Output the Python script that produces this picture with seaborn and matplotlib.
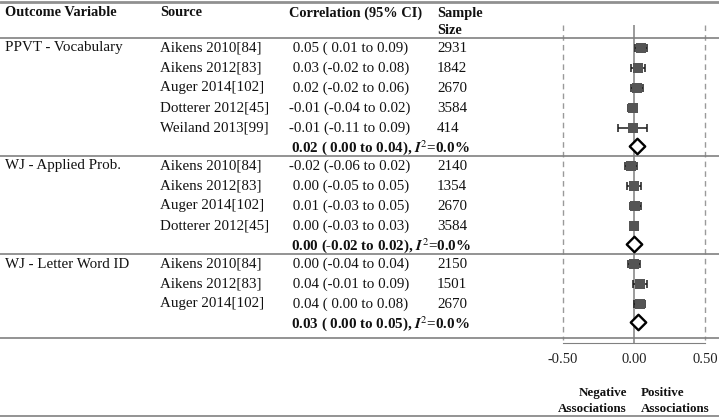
import numpy as np
import pandas as pd
import matplotlib.pyplot as plt
import matplotlib.transforms as mtransforms
import seaborn as sns

sns.set_style('white')
plt.rcParams['font.family'] = ['Liberation Serif', 'DejaVu Serif']
plt.rcParams['mathtext.fontset'] = 'stix'

# data
outcomes = ['PPVT - Vocabulary', 'WJ - Applied Prob.', 'WJ - Letter Word ID']
sources = [
    ['Aikens 2010[84]', 'Aikens 2012[83]', 'Auger 2014[102]', 'Dotterer 2012[45]', 'Weiland 2013[99]'],
    ['Aikens 2010[84]', 'Aikens 2012[83]', 'Auger 2014[102]', 'Dotterer 2012[45]'],
    ['Aikens 2010[84]', 'Aikens 2012[83]', 'Auger 2014[102]'],
]
corr = [[0.05, 0.03, 0.02, -0.01, -0.01], [-0.02, 0.00, 0.01, 0.00], [0.00, 0.04, 0.04]]
ci_low = [[0.01, -0.02, -0.02, -0.04, -0.11], [-0.06, -0.05, -0.03, -0.03], [-0.04, -0.01, 0.00]]
ci_high = [[0.09, 0.08, 0.06, 0.02, 0.09], [0.02, 0.05, 0.05, 0.03], [0.04, 0.09, 0.08]]
sample_size = [[2931, 1842, 2670, 3584, 414], [2140, 1354, 2670, 3584], [2150, 1501, 2670]]
pooled = [0.02, 0.00, 0.03]
pooled_low = [0.00, -0.02, 0.00]
pooled_high = [0.04, 0.02, 0.05]
i2 = [0.0, 0.0, 0.0]
ticks = [-0.50, 0.00, 0.50]

# build tables with a row number for each line
study_rows = []
summary_rows = []
row = 0
for g in range(len(outcomes)):
    for j in range(len(sources[g])):
        study_rows.append(dict(group=g, outcome=outcomes[g] if j == 0 else '', source=sources[g][j],
                               r=corr[g][j], lo=ci_low[g][j], hi=ci_high[g][j],
                               n=sample_size[g][j], row=row))
        row += 1
    summary_rows.append(dict(group=g, r=pooled[g], lo=pooled_low[g], hi=pooled_high[g], i2=i2[g], row=row - 0.1))
    row += 0.9
studies = pd.DataFrame(study_rows)
summary = pd.DataFrame(summary_rows)

fig = plt.figure(figsize=(7.19, 4.18), dpi=100)
ax = fig.add_axes([563 / 719, 0, 142 / 719, 1])
ax.set_xlim(-0.5, 0.5)
ax.set_ylim(18.5, -2.4)
ax.patch.set_alpha(0)

fs = 10.8
trans = mtransforms.blended_transform_factory(fig.transFigure, ax.transData)

# reference lines
ax.vlines(0, -1.15, 14.75, color='#8a8a8a', lw=1.2, zorder=1)
ax.vlines([-0.5, 0.5], -1.15, 14.6, color='#9a9a9a', lw=1, ls=(0, (4, 3)), clip_on=False, zorder=1)

# table separators
sep = [-0.5] + list(summary['row'] + 0.5)
sep[-1] = 14.5
for y in sep:
    ax.plot([0, 1], [y, y], transform=trans, color='#808080', lw=1.2, clip_on=False)
ax.plot([0, 1], [-2.325, -2.325], transform=trans, color='#909090', lw=2, clip_on=False)
ax.plot([0, 1], [18.4, 18.4], transform=trans, color='#808080', lw=1.2, clip_on=False)

# forest marks
ax.errorbar(studies['r'], studies['row'], xerr=[studies['r'] - studies['lo'], studies['hi'] - studies['r']],
            fmt='none', ecolor='#1a1a1a', elinewidth=1.1, capsize=3.2, capthick=1.1, zorder=2)
sns.scatterplot(data=studies, x='r', y='row', marker='s', s=58, color='#555555', linewidth=0,
                ax=ax, zorder=3, legend=False)
sns.scatterplot(data=summary, x='r', y='row', marker='D', s=62, color='white', edgecolor='black',
                linewidth=1.7, ax=ax, zorder=3, legend=False)

# axis
for s in ['top', 'left', 'right']:
    ax.spines[s].set_visible(False)
ax.spines['bottom'].set_position(('data', 14.75))
ax.spines['bottom'].set_color('#808080')
ax.set_xticks(ticks)
ax.set_xticklabels([f'{t:.2f}' for t in ticks], fontsize=10.5)
ax.tick_params(axis='x', direction='inout', length=8, color='#808080', pad=3, labelcolor='#222222')
ax.set_yticks([])
ax.set_xlabel('')
ax.set_ylabel('')

# headers
hdr = dict(transform=trans, fontsize=10.4, fontweight='bold', va='center', color='#111111')
ax.text(5 / 719, -1.75, 'Outcome Variable', **hdr)
ax.text(160 / 719, -1.75, 'Source', **hdr)
ax.text(289 / 719, -1.75, 'Correlation (95% CI)', **hdr)
ax.text(437 / 719, -1.75, 'Sample', **hdr)
ax.text(437 / 719, -0.9, 'Size', **hdr)

# table body
body = dict(transform=trans, fontsize=fs, va='center', color='#111111')
for _, d in studies.iterrows():
    ax.text(5 / 719, d['row'], d['outcome'], **body)
    ax.text(160 / 719, d['row'], d['source'], **body)
    ax.text(289 / 719, d['row'], f"{d['r']:5.2f} ({d['lo']:5.2f} to {d['hi']:.2f})", **body)
    ax.text(437 / 719, d['row'], f"{int(d['n'])}", **body)
for _, d in summary.iterrows():
    ax.text(291 / 719, d['row'] + 0.1,
            f"{d['r']:.2f} ({d['lo']:5.2f} to {d['hi']:.2f}), " + r'$\mathbfit{I}^{2}$' + f"={d['i2']:.1f}%",
            fontweight='bold', **body)

lab = dict(transform=trans, fontsize=9.4, fontweight='bold', va='center', color='#111111')
ax.text(627 / 719, 17.25, 'Negative', ha='right', **lab)
ax.text(627 / 719, 18.05, 'Associations', ha='right', **lab)
ax.text(641 / 719, 17.25, 'Positive', ha='left', **lab)
ax.text(641 / 719, 18.05, 'Associations', ha='left', **lab)

fig.savefig('out.png', dpi=100)
